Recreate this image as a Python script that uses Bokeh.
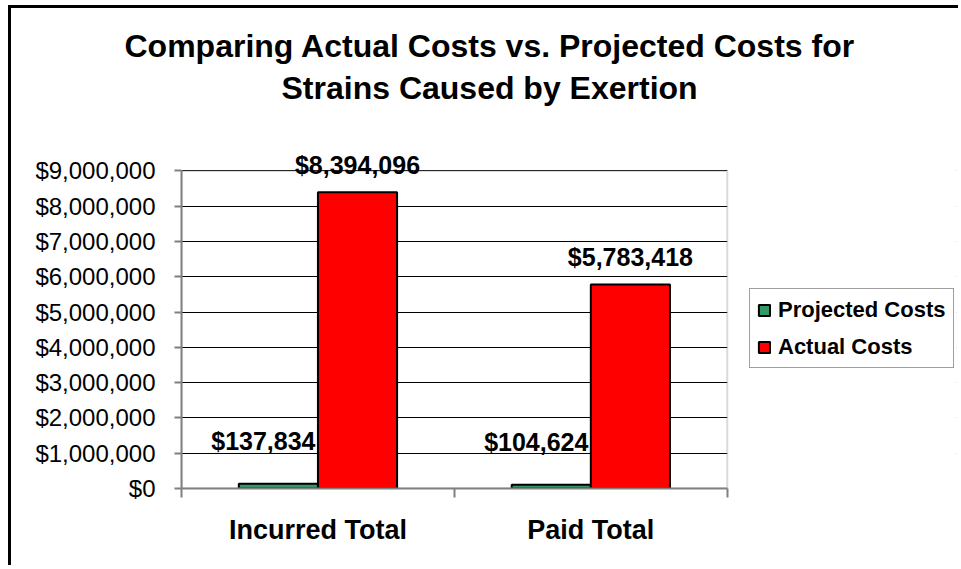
from bokeh.plotting import figure
from bokeh.models import (ColumnDataSource, Range1d, FixedTicker, NumeralTickFormatter,
                          Legend, LegendItem, LabelSet, Title, BoxAnnotation)
from bokeh.core.properties import value
from bokeh.embed import file_html
from bokeh.resources import INLINE

# ---- data ----
categories = ["Incurred Total", "Paid Total"]
series_names = ["Projected Costs", "Actual Costs"]
projected_costs = [137834, 104624]
actual_costs = [8394096, 5783418]
y_tick_values = [0, 1000000, 2000000, 3000000, 4000000, 5000000,
                 6000000, 7000000, 8000000, 9000000]
title_lines = ["Comparing Actual Costs vs. Projected Costs for",
               "Strains Caused by Exertion"]

FONT = "Liberation Sans"
GRAY = "#808080"
n = len(categories)
centers = [i + 0.5 for i in range(n)]
bar_w = 0.29
y_max = y_tick_values[-1]
x_end = n * 1.42          # extra room on the right for the legend

def money(v):
    return "${:,}".format(v)


src_proj = ColumnDataSource(dict(x=[c - bar_w / 2 for c in centers],
                                 top=projected_costs,
                                 label=[money(v) for v in projected_costs]))
src_act = ColumnDataSource(dict(x=[c + bar_w / 2 for c in centers],
                                top=actual_costs,
                                label=[money(v) for v in actual_costs]))

p = figure(width=950, height=560, output_backend="svg", toolbar_location=None,
           title_location=None,
           x_range=Range1d(0, x_end), y_range=Range1d(0, y_max * 1.08),
           min_border_left=170, min_border_right=5,
           min_border_top=137, min_border_bottom=80,
           background_fill_color="white", border_fill_color="white")
p.styles = {"margin-left": "8px", "margin-top": "5px",
            "border-left": "3px solid black", "border-top": "3px solid black"}

# titles (first added = closest to the plot area)
spacer = Title(text=" ", text_font=FONT, text_font_size="1px", standoff=35)
t2 = Title(text=title_lines[1], align="left", offset=100, standoff=4,
           text_font=FONT, text_font_size="32px", text_font_style="bold",
           text_color="black")
t1 = Title(text=title_lines[0], align="left", offset=-57, standoff=4,
           text_font=FONT, text_font_size="32px", text_font_style="bold",
           text_color="black")
p.add_layout(spacer, "above")
p.add_layout(t2, "above")
p.add_layout(t1, "above")

p.outline_line_color = None

# x axis
xa = p.xaxis[0]
xa.bounds = (0, n)
xa.ticker = FixedTicker(ticks=centers, minor_ticks=list(range(n + 1)))
xa.major_label_overrides = {c: cat for c, cat in zip(centers, categories)}
xa.major_tick_line_color = None
xa.major_tick_in = 0
xa.major_tick_out = 0
xa.minor_tick_in = 0
xa.minor_tick_out = 9
xa.minor_tick_line_color = GRAY
xa.minor_tick_line_width = 2
xa.axis_line_color = GRAY
xa.axis_line_width = 2
xa.major_label_text_font = FONT
xa.major_label_text_font_size = "27px"
xa.major_label_text_font_style = "bold"
xa.major_label_text_color = "black"
xa.major_label_standoff = 17

# y axis
ya = p.yaxis[0]
yticker = FixedTicker(ticks=y_tick_values)
ya.ticker = yticker
ya.bounds = (0, y_max)
ya.formatter = NumeralTickFormatter(format="$0,0")
ya.minor_tick_line_color = None
ya.major_tick_in = 0
ya.major_tick_out = 7
ya.major_tick_line_color = GRAY
ya.major_tick_line_width = 2
ya.axis_line_color = GRAY
ya.axis_line_width = 2
ya.major_label_text_font = FONT
ya.major_label_text_font_size = "24px"
ya.major_label_text_color = "black"
ya.major_label_standoff = 19

p.xgrid.visible = False
p.ygrid.ticker = yticker
p.ygrid.grid_line_color = "black"
p.ygrid.grid_line_width = 1

# blank the area right of the plot area (legend side), then draw the plot-area border
p.add_layout(BoxAnnotation(left=n, right=x_end * 1.1, bottom=0, top=y_max * 1.2,
                           fill_color="white", fill_alpha=1, line_color=None,
                           level="underlay"))
p.add_layout(BoxAnnotation(left=0, right=n, bottom=0, top=y_max,
                           fill_alpha=0, line_color=GRAY, line_width=2,
                           level="underlay"))

# bars
r_p = p.vbar(x="x", top="top", bottom=0, width=bar_w, source=src_proj,
             fill_color="#339966", line_color="black", line_width=2)
r_a = p.vbar(x="x", top="top", bottom=0, width=bar_w, source=src_act,
             fill_color="#FF0000", line_color="black", line_width=2)

# value labels
lab_p = LabelSet(x="x", y="top", text="label", source=src_proj,
                 x_offset=-15, y_offset=34, text_align="center",
                 text_baseline="alphabetic", text_font=value(FONT),
                 text_font_size="25px", text_font_style="bold", text_color="black")
lab_a = LabelSet(x="x", y="top", text="label", source=src_act,
                 x_offset=0, y_offset=18, text_align="center",
                 text_baseline="alphabetic", text_font=value(FONT),
                 text_font_size="25px", text_font_style="bold", text_color="black")
p.add_layout(lab_p)
p.add_layout(lab_a)

legend = Legend(items=[LegendItem(label=series_names[0], renderers=[r_p]),
                       LegendItem(label=series_names[1], renderers=[r_a])],
                location=(568, 120), orientation="vertical",
                padding=7, spacing=10, margin=0,
                glyph_width=14, glyph_height=14, label_height=27, label_standoff=7,
                label_text_font=FONT, label_text_font_size="22px",
                label_text_font_style="bold", label_text_color="black",
                border_line_color="#404040", border_line_width=1,
                background_fill_color="white", background_fill_alpha=1.0)
p.add_layout(legend, "center")

open("out.html", "w").write(file_html(p, INLINE))
